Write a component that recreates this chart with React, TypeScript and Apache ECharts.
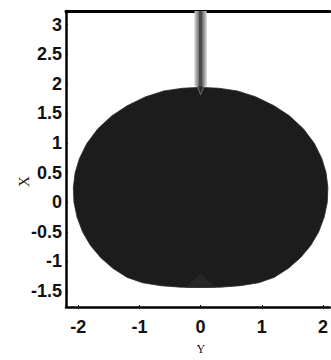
import React, { useEffect, useRef } from "react";
import * as echarts from "echarts";

const xTicks = [-2, -1, 0, 1, 2];
const yTicks = [-1.5, -1, -0.5, 0, 0.5, 1, 1.5, 2, 2.5, 3];

// droplet outline (clockwise from top)
const dropX = [
  0, 0.3, 0.6, 0.9, 1.2, 1.45, 1.68, 1.86, 1.98, 2.05, 2.08,
  2.07, 2.02, 1.93, 1.8, 1.63, 1.43, 1.2, 0.95, 0.65, 0.33, 0,
  -0.33, -0.65, -0.95, -1.2, -1.43, -1.63, -1.8, -1.93, -2.02, -2.07,
  -2.08, -2.05, -1.98, -1.86, -1.68, -1.45, -1.2, -0.9, -0.6, -0.3,
];
const dropY = [
  1.94, 1.925, 1.88, 1.78, 1.63, 1.46, 1.24, 0.99, 0.74, 0.5, 0.25,
  0.0, -0.25, -0.5, -0.73, -0.94, -1.12, -1.27, -1.36, -1.41, -1.435, -1.44,
  -1.435, -1.41, -1.36, -1.27, -1.12, -0.94, -0.73, -0.5, -0.25, 0.0,
  0.25, 0.5, 0.74, 0.99, 1.24, 1.46, 1.63, 1.78, 1.88, 1.925,
];

// needle: x position, top and bottom (data units)
const needleX = [0];
const needleTop = [3.3];
const needleBottom = [1.96];
const needleTip = [1.8];

export default function App() {
  const ref = useRef<HTMLDivElement>(null);
  useEffect(() => {
    if (!ref.current) return;
    const chart = echarts.init(ref.current, null, { renderer: "svg" });
    const tickFont = {
      fontFamily: "Liberation Sans, Arial, sans-serif",
      fontWeight: "bold" as const,
      fontSize: 18,
      color: "#111",
    };
    chart.setOption({
      animation: false,
      backgroundColor: "#fff",
      grid: { left: 66, top: 11, right: 0, bottom: 41 },
      xAxis: [
        {
          type: "value",
          min: -2.2,
          max: 2.11,
          name: "Y",
          nameLocation: "middle",
          nameGap: 36,
          nameMoveOverlap: false,
          nameTextStyle: { fontFamily: "Liberation Serif, serif", fontSize: 12, lineHeight: 12, color: "#111", padding: [0, 0, 0, 6] },
          axisLine: { show: true, onZero: false, lineStyle: { color: "#000", width: 2.5 } },
          axisTick: { show: true, inside: true, length: 2, customValues: xTicks, lineStyle: { color: "#000" } },
          axisLabel: { ...tickFont, lineHeight: 16, margin: 12, customValues: xTicks },
          splitLine: { show: false },
        },
        {
          type: "value",
          position: "top",
          min: -2.2,
          max: 2.11,
          axisLine: { show: true, onZero: false, lineStyle: { color: "#000", width: 3 } },
          axisTick: { show: false },
          axisLabel: { show: false },
          splitLine: { show: false },
        },
      ],
      yAxis: {
        type: "value",
        min: -1.77,
        max: 3.23,
        name: "X",
        nameLocation: "middle",
        nameGap: 35,
        nameRotate: 90,
        nameMoveOverlap: false,
        nameTextStyle: { fontFamily: "Liberation Serif, serif", fontSize: 15, color: "#111", padding: [0, 45, 0, 0] },
        axisLine: { show: true, onZero: false, lineStyle: { color: "#000", width: 2.5 } },
        axisTick: { show: true, inside: true, length: 2, customValues: yTicks, lineStyle: { color: "#000" } },
        axisLabel: { ...tickFont, margin: 4, customValues: yTicks },
        splitLine: { show: false },
      },
      series: [
        {
          type: "custom",
          coordinateSystem: "cartesian2d",
          clip: true,
          data: dropX.map((x, i) => [x, dropY[i]]),
          renderItem: (params: any, api: any) => {
            if (params.dataIndex !== 0) return null;
            const pts = dropX.map((x, i) => api.coord([x, dropY[i]]));
            const base = api.coord([0, -1.44]);
            const peak = api.coord([0, -1.2]);
            const l = api.coord([-0.25, -1.44]);
            const r = api.coord([0.25, -1.44]);
            return {
              type: "group",
              children: [
                {
                  type: "polygon",
                  shape: { points: pts },
                  style: { fill: "#1c1c1c", stroke: "#2a2a2a", lineWidth: 0.8 },
                },
                {
                  type: "polygon",
                  shape: { points: [l, peak, r, base] },
                  style: { fill: "#252525" },
                },
              ],
            };
          },
        },
        {
          type: "custom",
          coordinateSystem: "cartesian2d",
          clip: true,
          data: needleX.map((x, i) => [x, needleTop[i], needleBottom[i], needleTip[i]]),
          renderItem: (params: any, api: any) => {
            const x = api.value(0);
            const top = api.coord([x, api.value(1)]);
            const bot = api.coord([x, api.value(2)]);
            const tip = api.coord([x, api.value(3)]);
            const cx = top[0];
            const h = bot[1] - top[1];
            return {
              type: "group",
              children: [
                { type: "rect", shape: { x: cx - 6, y: top[1], width: 12, height: h }, style: { fill: "#bdbdbd" } },
                { type: "rect", shape: { x: cx - 4, y: top[1], width: 8, height: h }, style: { fill: "#8c8c8c" } },
                { type: "rect", shape: { x: cx - 1.8, y: top[1], width: 3.6, height: h }, style: { fill: "#4a4a4a" } },
                {
                  type: "polygon",
                  shape: { points: [[cx - 4, bot[1]], [cx + 4, bot[1]], [cx + 1.5, bot[1] + 6], [cx, tip[1]], [cx - 1.5, bot[1] + 6]] },
                  style: { fill: "#6a6a6a" },
                },
                {
                  type: "polygon",
                  shape: { points: [[cx - 2.5, bot[1]], [cx + 2.5, bot[1]], [cx, tip[1] - 2]] },
                  style: { fill: "#2a2a2a" },
                },
              ],
            };
          },
        },
      ],
    });
    return () => chart.dispose();
  }, []);
  return <div ref={ref} style={{ width: 331, height: 360, position: "absolute", left: 0, top: 0 }} />;
}
